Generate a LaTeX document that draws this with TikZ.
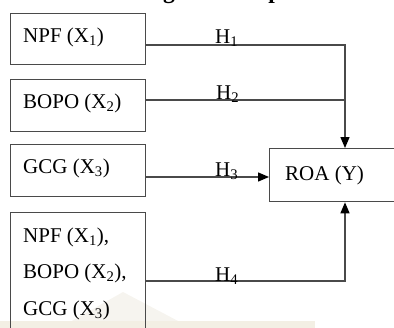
\documentclass[tikz,border=0pt]{standalone}
\usepackage{fontspec}
\setmainfont{Liberation Serif}
\usetikzlibrary{arrows.meta}
\definecolor{linegray}{HTML}{4A4A4A}
\definecolor{bandbeige}{HTML}{F3EFE4}
\definecolor{peakgray}{HTML}{F6F4EF}
\tikzset{
  varbox/.style={draw=linegray, line width=1.3pt, inner sep=0pt, anchor=north west},
  vartext/.style={anchor=base west, inner sep=0pt, font=\fontsize{21}{25}\selectfont},
  hyplabel/.style={anchor=base west, inner sep=0pt, font=\fontsize{21}{25}\selectfont},
  link/.style={draw=linegray, line width=1.3pt},
  arrowlink/.style={link, -{Triangle[length=11pt, width=9pt, color=black]}},
}
\begin{document}
\begin{tikzpicture}[x=1pt, y=-1pt]
  \useasboundingbox (0,0) rectangle (394,327);
  \begin{scope}
    \clip (0,0) rectangle (394,327);
    % faint background shapes along the bottom edge
    \fill[peakgray] (70,322) -- (123,292) -- (180,322) -- cycle;
    \fill[bandbeige] (0,321) rectangle (315,330);
    % heading line, only its descenders fall inside the frame
    \node[anchor=base west, inner sep=0pt, font=\fontsize{23.5}{28}\selectfont\bfseries] (heading) at (99,-1.5) {Kerangka Konseptual};

    % independent variables
    \node[varbox, minimum width=135pt, minimum height=51pt] (npf) at (10,13) {};
    \node[varbox, minimum width=135pt, minimum height=52pt] (bopo) at (10,79) {};
    \node[varbox, minimum width=135pt, minimum height=52pt] (gcg) at (10,144) {};
    \node[varbox, minimum width=135pt, minimum height=130pt] (all) at (10,212) {};
    % dependent variable
    \node[varbox, minimum width=140pt, minimum height=53pt] (roa) at (269,148) {};

    \node[vartext] (npf-t) at (23,42) {NPF (X\textsubscript{1})};
    \node[vartext] (bopo-t) at (23,108) {BOPO (X\textsubscript{2})};
    \node[vartext] (gcg-t) at (23,173) {GCG (X\textsubscript{3})};
    \node[vartext] (all-a) at (23,242) {NPF (X\textsubscript{1}),};
    \node[vartext] (all-b) at (23,278) {BOPO (X\textsubscript{2}),};
    \node[vartext] (all-c) at (23,315) {GCG (X\textsubscript{3})};
    \node[vartext] (roa-t) at (285,180) {ROA (Y)};

    % junction points of the paths
    \coordinate (j1) at (345,45);
    \coordinate (j2) at (345,100);
    \coordinate (j3) at (200,177);
    \coordinate (j4) at (345,281);

    \draw[link] (npf.east |- j1) -- (j1) -- (j2);
    \draw[link] (bopo.east |- j2) -- (j2);
    \draw[arrowlink] (j2) -- (roa.north -| j2);
    \draw[arrowlink] (gcg.east |- j3) -- (roa.west |- j3);
    \draw[arrowlink] (all.east |- j4) -- (j4) -- (roa.south -| j4);

    \node[hyplabel] (h1) at (215,43) {H\textsubscript{1}};
    \node[hyplabel] (h2) at (216,99) {H\textsubscript{2}};
    \node[hyplabel] (h3) at (215,176) {H\textsubscript{3}};
    \node[hyplabel] (h4) at (215,281) {H\textsubscript{4}};
  \end{scope}
\end{tikzpicture}
\end{document}
